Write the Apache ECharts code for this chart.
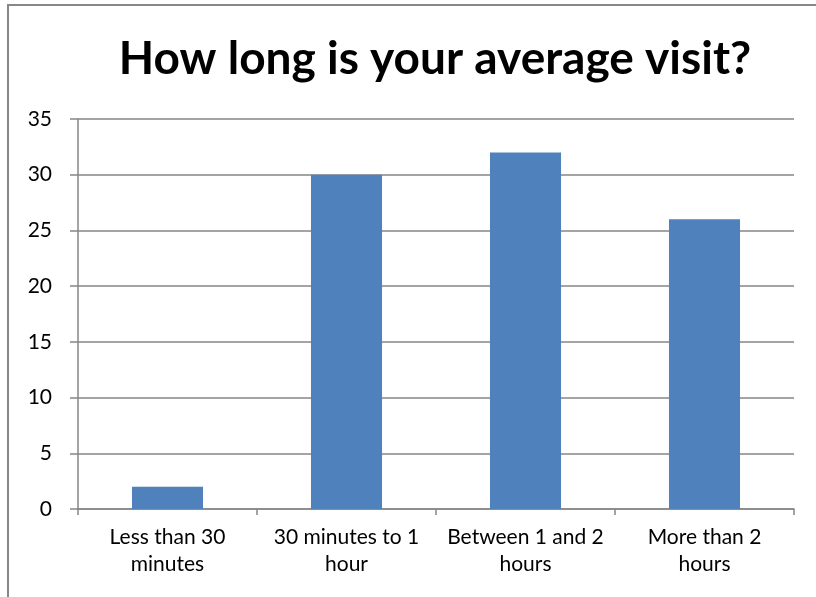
<!DOCTYPE html>
<html>
<head>
<meta charset="utf-8">
<script src="https://cdn.jsdelivr.net/npm/echarts@6/dist/echarts.min.js"></script>
<style>
  html, body { margin: 0; padding: 0; background: #fff; }
  #chart { width: 816px; height: 597px; }
</style>
</head>
<body>
<div id="chart"></div>
<script>
// visit length survey
var categories = ['Less than 30\nminutes', '30 minutes to 1\nhour', 'Between 1 and 2\nhours', 'More than 2\nhours'];
var counts = [2, 30, 32, 26];
var yTicks = { min: 0, max: 35, step: 5 };

var visitChart = echarts.init(document.getElementById('chart'));
var visitOption = {
    animation: false,
    backgroundColor: '#ffffff',
    title: {
        text: 'How long is your average visit?',
        left: 430,
        textAlign: 'center',
        top: 31,
        textStyle: {
            color: '#000000',
            fontFamily: 'Lato',
            fontWeight: 'bold',
            fontSize: 46
        }
    },
    graphic: [{
        type: 'rect',
        shape: { x: 8, y: 5, width: 830, height: 620 },
        style: { fill: null, stroke: '#878787', lineWidth: 2 },
        silent: true
    }],
    grid: {
        left: 78,
        right: 22,
        top: 119,
        bottom: 88,
        containLabel: false
    },
    xAxis: {
        type: 'category',
        data: categories,
        axisTick: {
            show: true,
            alignWithLabel: false,
            length: 6,
            lineStyle: { color: '#868686', width: 1.5 }
        },
        axisLine: {
            lineStyle: { color: '#868686', width: 1.5 }
        },
        axisLabel: {
            interval: 0,
            margin: 15,
            fontFamily: 'Lato',
            fontSize: 21,
            lineHeight: 27,
            color: '#000000'
        }
    },
    yAxis: {
        type: 'value',
        min: yTicks.min,
        max: yTicks.max,
        interval: yTicks.step,
        axisTick: {
            show: true,
            length: 8,
            lineStyle: { color: '#868686', width: 1.5 }
        },
        axisLine: {
            show: true,
            lineStyle: { color: '#868686', width: 1.5 }
        },
        splitLine: {
            lineStyle: { color: '#868686', width: 1.5 }
        },
        axisLabel: {
            margin: 26,
            fontFamily: 'Lato',
            fontSize: 21,
            color: '#000000'
        }
    },
    series: [{
        name: 'Visits',
        type: 'bar',
        barWidth: '39.7%',
        data: counts,
        itemStyle: {
            color: '#4f81bd'
        }
    }]
};
visitChart.setOption(visitOption);
</script>
</body>
</html>
